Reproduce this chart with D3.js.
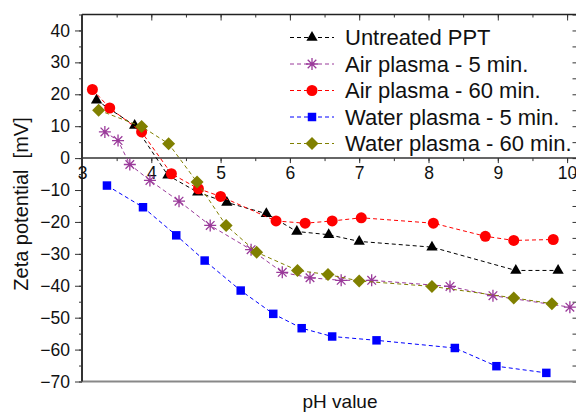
<!DOCTYPE html>
<html>
<head>
<meta charset="utf-8">
<script src="https://cdn.jsdelivr.net/npm/d3@7"></script>
<style>
  body { margin: 0; background: #fff; }
  text { font-family: Arial, "Liberation Sans", sans-serif; fill: #111; }
</style>
</head>
<body>
<div id="chart"></div>
<script>
// values (pH, zeta potential in mV)
var untreatedPH   = [3.21, 3.76, 4.24, 4.67, 5.09, 5.66, 6.10, 6.56, 7.00, 8.05, 9.26, 9.87];
var untreatedZeta = [18.1, 10.2, -5.4, -10.7, -13.9, -17.4, -23.0, -24.0, -26.1, -27.9, -35.2, -35.2];

var air5PH   = [3.33, 3.52, 3.69, 3.98, 4.40, 4.85, 5.44, 5.89, 6.29, 6.74, 7.18, 8.31, 8.93, 10.04];
var air5Zeta = [8.2, 5.5, -2.0, -7.0, -13.5, -21.1, -28.7, -35.8, -37.5, -38.3, -38.3, -40.2, -43.1, -46.7];

var air60PH   = [3.15, 3.40, 3.86, 4.29, 4.68, 5.00, 5.80, 6.22, 6.61, 7.03, 8.07, 8.82, 9.23, 9.80];
var air60Zeta = [21.5, 15.7, 8.2, -4.9, -9.6, -12.0, -19.7, -20.4, -19.7, -18.7, -20.4, -24.5, -25.8, -25.5];

var water5PH   = [3.36, 3.88, 4.36, 4.77, 5.29, 5.76, 6.17, 6.61, 7.25, 8.38, 8.98, 9.70];
var water5Zeta = [-8.6, -15.4, -24.2, -32.1, -41.5, -48.8, -53.3, -55.9, -57.1, -59.5, -65.2, -67.3];

var water60PH   = [3.24, 3.86, 4.25, 4.66, 5.08, 5.52, 6.11, 6.55, 7.00, 8.05, 9.23, 9.78];
var water60Zeta = [15.0, 9.9, 4.5, -7.5, -21.1, -29.5, -35.2, -36.5, -38.5, -40.2, -43.8, -45.6];

var seriesNames = ["Untreated PPT", "Air plasma - 5 min.", "Air plasma - 60 min.", "Water plasma - 5 min.", "Water plasma - 60 min."];
var seriesColors = ["#000000", "#9a3a9a", "#ff0000", "#0000ff", "#808000"];
var seriesMarkers = ["triangle", "asterisk", "circle", "square", "diamond"];

var xTicks = [3, 4, 5, 6, 7, 8, 9, 10];
var yTicks = [-70, -60, -50, -40, -30, -20, -10, 0, 10, 20, 30, 40];

var series = [
  [untreatedPH, untreatedZeta],
  [air5PH, air5Zeta],
  [air60PH, air60Zeta],
  [water5PH, water5Zeta],
  [water60PH, water60Zeta]
].map(function(s, i) {
  return {
    name: seriesNames[i],
    color: seriesColors[i],
    marker: seriesMarkers[i],
    points: s[0].map(function(p, j) { return {x: p, y: s[1][j]}; })
  };
});

var width = 576, height = 414;

var svg = d3.select("#chart")
  .append("svg")
    .attr("width", width)
    .attr("height", height);

var x = d3.scaleLinear().domain([3, 10.15]).range([82, 577.5]);
var y = d3.scaleLinear().domain([-70, 45]).range([381.5, 14.5]);

var minorX = d3.range(3, 10.2, 0.5);
var minorY = d3.range(-70, 45.1, 5);

// frame: top and right get inward ticks only
svg.append("g")
    .attr("transform", "translate(0," + y(45) + ")")
    .call(d3.axisBottom(x).tickValues(minorX).tickSize(3).tickFormat(""))
    .call(function(g) { g.select(".domain").remove(); });
svg.append("g")
    .attr("transform", "translate(0," + y(45) + ")")
    .call(d3.axisBottom(x).tickValues(xTicks).tickSize(6).tickFormat(""))
    .call(function(g) { g.select(".domain").remove(); });
svg.append("g")
    .attr("transform", "translate(" + x(10.15) + ",0)")
    .call(d3.axisLeft(y).tickValues(minorY).tickSize(5).tickFormat(""))
    .call(function(g) { g.select(".domain").remove(); });

svg.append("line")
    .attr("x1", x(3)).attr("x2", width)
    .attr("y1", y(45)).attr("y2", y(45))
    .attr("stroke", "#222").attr("stroke-width", 1.5);
svg.append("line")
    .attr("x1", x(3)).attr("x2", width)
    .attr("y1", y(-70)).attr("y2", y(-70))
    .attr("stroke", "#888").attr("stroke-width", 2);

// left axis
svg.append("g")
    .attr("transform", "translate(" + x(3) + ",0)")
    .call(d3.axisLeft(y).tickValues(minorY).tickSize(3).tickFormat(""))
    .call(function(g) { g.select(".domain").remove(); });
var yAxis = svg.append("g")
    .attr("transform", "translate(" + x(3) + ",0)")
    .call(d3.axisLeft(y).tickValues(yTicks).tickSize(7).tickPadding(5));
yAxis.select(".domain").remove();
yAxis.selectAll("text").style("font-size", "17.5px").style("font-family", "Arial, 'Liberation Sans', sans-serif").attr("fill", "#111");

svg.append("line")
    .attr("x1", x(3)).attr("x2", x(3))
    .attr("y1", y(45)).attr("y2", y(-70))
    .attr("stroke", "#333").attr("stroke-width", 2);

// x axis sits on the zero line
svg.append("g")
    .attr("transform", "translate(0," + y(0) + ")")
    .call(d3.axisBottom(x).tickValues(minorX).tickSize(3).tickFormat(""))
    .call(function(g) { g.select(".domain").remove(); });
var xAxis = svg.append("g")
    .attr("transform", "translate(0," + y(0) + ")")
    .call(d3.axisBottom(x).tickValues(xTicks).tickSize(5).tickPadding(3).tickFormat(d3.format("d")));
xAxis.select(".domain").remove();
xAxis.selectAll("text").style("font-size", "17.5px").style("font-family", "Arial, 'Liberation Sans', sans-serif").attr("fill", "#111");

svg.append("line")
    .attr("x1", x(3)).attr("x2", width)
    .attr("y1", y(0)).attr("y2", y(0))
    .attr("stroke", "#333").attr("stroke-width", 1.5);

svg.selectAll(".tick line").attr("stroke", "#333");

// marker shapes
function markerPath(type) {
  if (type == "triangle") return d3.symbol().type(d3.symbolTriangle).size(55)();
  if (type == "circle") return d3.symbol().type(d3.symbolCircle).size(95)();
  if (type == "square") return d3.symbol().type(d3.symbolSquare).size(72)();
  if (type == "diamond") return "M0,-6.5L6.5,0L0,6.5L-6.5,0Z";
  // asterisk: plus and cross
  return "M0,-6V6M-6,0H6M-4.3,-4.3L4.3,4.3M-4.3,4.3L4.3,-4.3";
}

function drawMarker(sel, d) {
  var p = sel.append("path").attr("d", markerPath(d.marker));
  if (d.marker == "asterisk") {
    p.attr("fill", "none").attr("stroke", d.color).attr("stroke-width", 1.3);
  } else {
    p.attr("fill", d.color).attr("stroke", "none");
  }
}

var line = d3.line()
  .x(function(d) { return x(d.x); })
  .y(function(d) { return y(d.y); });

var seriesG = svg.selectAll(".series")
  .data(series)
  .enter()
  .append("g")
    .attr("class", "series");

seriesG.append("path")
    .attr("d", function(d) { return line(d.points); })
    .attr("fill", "none")
    .attr("stroke", function(d) { return d.color; })
    .attr("stroke-width", 1)
    .attr("stroke-dasharray", "4,3");

seriesG.each(function(d) {
  var g = d3.select(this);
  d.points.forEach(function(p) {
    drawMarker(g.append("g").attr("transform", "translate(" + x(p.x) + "," + y(p.y) + ")"), d);
  });
});

// legend
var legend = svg.selectAll(".legend")
  .data(series)
  .enter()
  .append("g")
    .attr("class", "legend")
    .attr("transform", function(d, i) { return "translate(290," + (37.5 + i * 26.5) + ")"; });

legend.append("line")
    .attr("x1", 0).attr("x2", 44)
    .attr("stroke", function(d) { return d.color; })
    .attr("stroke-width", 1)
    .attr("stroke-dasharray", "4,3");

legend.each(function(d) {
  drawMarker(d3.select(this).append("g").attr("transform", "translate(22,0)"), d);
});

legend.append("text")
    .attr("x", 55)
    .attr("dy", "0.36em")
    .style("font-size", "22px")
    .text(function(d) { return d.name; });

// axis titles
svg.append("text")
    .attr("transform", "translate(28,204) rotate(-90)")
    .attr("text-anchor", "middle")
    .style("font-size", "20px")
    .style("white-space", "pre")
    .text("Zeta potential  [mV]");

svg.append("text")
    .attr("x", 340)
    .attr("y", 408)
    .attr("text-anchor", "middle")
    .style("font-size", "19px")
    .text("pH value");
</script>
</body>
</html>
